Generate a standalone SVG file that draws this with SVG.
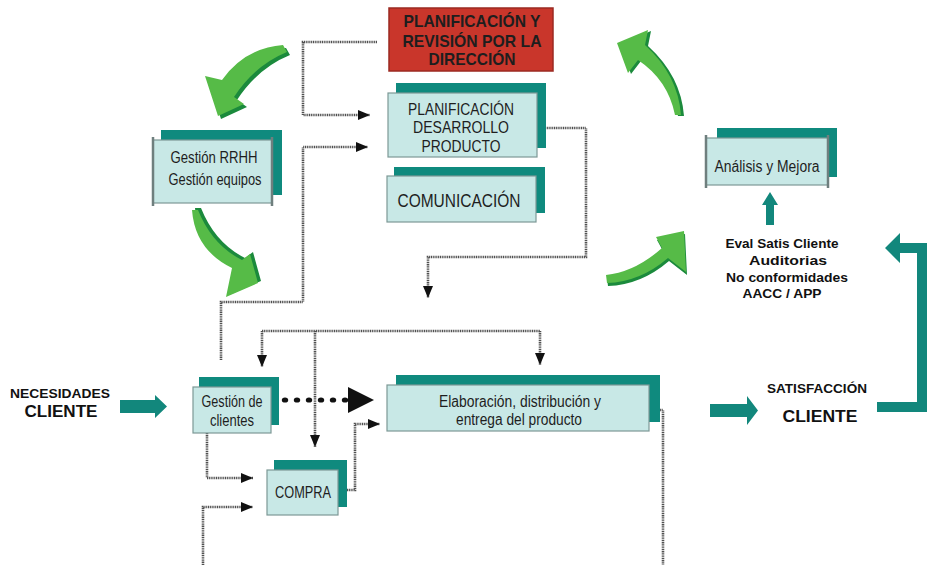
<svg xmlns="http://www.w3.org/2000/svg" width="938" height="565" viewBox="0 0 938 565">
<defs>
<style>
.back{fill:#0f8a7e}
.front{fill:#c8e8e6;stroke:#7d9896;stroke-width:1.2}
.side{stroke:#6f7f7e;stroke-width:2.5}
.t{font-family:"Liberation Sans Narrow","Liberation Sans",Arial,sans-serif;fill:#1e1e1e;text-anchor:middle}
.b{font-family:"Liberation Sans",Arial,sans-serif;font-weight:bold;fill:#111;text-anchor:middle}
.dot{fill:none;stroke:#505050;stroke-width:2.6;stroke-dasharray:1.1 0.7}
.teal{fill:#12877c}
.gl{fill:#56bb47}
.gd{fill:#1b8a3c}
</style>
<marker id="ah" viewBox="0 0 12 10" refX="12" refY="5" markerWidth="12" markerHeight="10" markerUnits="userSpaceOnUse" orient="auto"><path d="M0,0 L12,5 L0,10 Z" fill="#111"/></marker>
</defs>
<rect width="938" height="565" fill="#fff"/>

<g id="connectors">
<path class="dot" d="M377,42 H303 V115 H370" marker-end="url(#ah)"/>
<path class="dot" d="M221,360 V302 H303 V147 H368" marker-end="url(#ah)"/>
<path class="dot" d="M545,128 H586 V257 H428 V298" marker-end="url(#ah)"/>
<path class="dot" d="M262,331 H540"/>
<path class="dot" d="M262,331 V367" marker-end="url(#ah)"/>
<path class="dot" d="M540,331 V365" marker-end="url(#ah)"/>
<path class="dot" d="M315,331 V447" marker-end="url(#ah)"/>
<path class="dot" d="M207,433 V478 H253" marker-end="url(#ah)"/>
<path class="dot" d="M203,565 V507 H253" marker-end="url(#ah)"/>
<path class="dot" d="M338,490 H355 V424 H380" marker-end="url(#ah)"/>
<path class="dot" d="M649,410 H663 V565"/>
<g fill="#111">
<ellipse cx="285" cy="400" rx="3.2" ry="2.6"/><ellipse cx="297" cy="400" rx="3.2" ry="2.6"/><ellipse cx="309" cy="400" rx="3.2" ry="2.6"/>
<ellipse cx="321" cy="400" rx="3.2" ry="2.6"/><ellipse cx="333" cy="400" rx="3.2" ry="2.6"/><ellipse cx="345" cy="400" rx="3.2" ry="2.6"/>
<path d="M348,387 L374,400 L348,413 Z"/>
</g>
<polygon class="teal" points="120,400 155,400 155,395 167,406.5 155,418 155,413 120,413"/>
<polygon class="teal" points="710,404 747,404 747,396 758,410.5 747,425 747,417 710,417"/>
<polygon class="teal" points="877,402 917,402 917,253 900,253 900,263 885,248 900,233 900,243 927,243 927,412 877,412"/>
<polygon class="teal" points="766,225 766,205 762,205 770,192 778,205 774,205 774,225"/>
<g id="green-arrows">
<path class="gd" transform="translate(3,3)" d="M283,45 Q245,48 222,80 L205,76 L218,116 L244,104 L234,97 Q255,65 287,52 Z"/>
<path class="gl" d="M283,45 Q245,48 222,80 L205,76 L218,116 L244,104 L234,97 Q255,65 287,52 Z"/>
<path class="gd" transform="translate(3,-2)" d="M192,210 Q195,250 232,268 L226,297 L258,283 L250,254 L242,260 Q212,245 198,210 Z"/>
<path class="gl" d="M192,210 Q195,250 232,268 L226,297 L258,283 L250,254 L242,260 Q212,245 198,210 Z"/>
<path class="gd" transform="translate(1,3)" d="M607,283 Q640,282 668,258 L686,272 L684,231 L656,237 L662,248 Q635,272 606,275 Z"/>
<path class="gl" d="M607,283 Q640,282 668,258 L686,272 L684,231 L656,237 L662,248 Q635,272 606,275 Z"/>
<path class="gd" transform="translate(3,1)" d="M675,115 Q668,80 638,60 L628,73 L617,43 L648,30 L645,45 Q678,75 681,115 Z"/>
<path class="gl" d="M675,115 Q668,80 638,60 L628,73 L617,43 L648,30 L645,45 Q678,75 681,115 Z"/>
</g>
</g>

<g id="direccion">
<rect x="389" y="8" width="164" height="63" fill="#c9362b" stroke="#9b2a22" stroke-width="1.5"/>
<text class="t" font-weight="bold" font-size="17" fill="#2b1b17" x="472" y="27" textLength="137" lengthAdjust="spacingAndGlyphs">PLANIFICACIÓN Y</text>
<text class="t" font-weight="bold" font-size="17" fill="#2b1b17" x="472" y="47" textLength="139" lengthAdjust="spacingAndGlyphs">REVISIÓN POR LA</text>
<text class="t" font-weight="bold" font-size="17" fill="#2b1b17" x="472" y="65" textLength="87" lengthAdjust="spacingAndGlyphs">DIRECCIÓN</text>
</g>

<g id="planificacion">
<rect class="back" x="396" y="83" width="150" height="65"/>
<rect class="front" x="388" y="93" width="149" height="64"/>
<text class="t" font-size="17" x="461" y="115" textLength="106" lengthAdjust="spacingAndGlyphs">PLANIFICACIÓN</text>
<text class="t" font-size="17" x="461" y="133" textLength="96" lengthAdjust="spacingAndGlyphs">DESARROLLO</text>
<text class="t" font-size="17" x="461" y="152" textLength="79" lengthAdjust="spacingAndGlyphs">PRODUCTO</text>
</g>

<g id="comunicacion">
<rect class="back" x="394" y="167" width="151" height="46"/>
<rect class="front" x="387" y="176" width="149" height="46"/>
<text class="t" font-size="18" x="459" y="207" textLength="123" lengthAdjust="spacingAndGlyphs">COMUNICACIÓN</text>
</g>

<g id="rrhh">
<rect class="back" x="161" y="130" width="121" height="65"/>
<rect class="front" x="153" y="140" width="119" height="63"/>
<line class="side" x1="153" y1="137" x2="153" y2="206"/>
<line class="side" x1="272" y1="137" x2="272" y2="206"/>
<text class="t" font-size="16" x="214" y="163" textLength="87" lengthAdjust="spacingAndGlyphs">Gestión RRHH</text>
<text class="t" font-size="16" x="215" y="185" textLength="93" lengthAdjust="spacingAndGlyphs">Gestión equipos</text>
</g>

<g id="analisis">
<rect class="back" x="717" y="128" width="120" height="49"/>
<rect class="front" x="706" y="138" width="122" height="47"/>
<line class="side" x1="706" y1="135" x2="706" y2="188"/>
<line class="side" x1="828" y1="135" x2="828" y2="188"/>
<text class="t" font-size="16" x="767" y="172" textLength="105" lengthAdjust="spacingAndGlyphs">Análisis y Mejora</text>
</g>

<g id="eval">
<text class="b" font-size="13" x="782" y="248" textLength="113" lengthAdjust="spacingAndGlyphs">Eval Satis Cliente</text>
<text class="b" font-size="13" x="788" y="265" textLength="78" lengthAdjust="spacingAndGlyphs">Auditorias</text>
<text class="b" font-size="13" x="787" y="282" textLength="122" lengthAdjust="spacingAndGlyphs">No conformidades</text>
<text class="b" font-size="13" x="782" y="298" textLength="79" lengthAdjust="spacingAndGlyphs">AACC / APP</text>
</g>

<g id="necesidades">
<text class="b" font-size="13.5" x="60" y="398" textLength="100" lengthAdjust="spacingAndGlyphs">NECESIDADES</text>
<text class="b" font-size="17" x="61" y="417" textLength="73" lengthAdjust="spacingAndGlyphs">CLIENTE</text>
</g>

<g id="satisfaccion">
<text class="b" font-size="13.5" x="817" y="393" textLength="100" lengthAdjust="spacingAndGlyphs">SATISFACCIÓN</text>
<text class="b" font-size="17" x="820" y="422" textLength="75" lengthAdjust="spacingAndGlyphs">CLIENTE</text>
</g>

<g id="gestion-clientes">
<rect class="back" x="199" y="377" width="80" height="48"/>
<rect class="front" x="193" y="387" width="78" height="46"/>
<text class="t" font-size="16" x="232" y="407" textLength="61" lengthAdjust="spacingAndGlyphs">Gestión de</text>
<text class="t" font-size="16" x="232" y="426" textLength="44" lengthAdjust="spacingAndGlyphs">clientes</text>
</g>

<g id="compra">
<rect class="back" x="274" y="460" width="73" height="47"/>
<rect class="front" x="267" y="470" width="71" height="45"/>
<text class="t" font-size="16" x="303" y="498" textLength="56" lengthAdjust="spacingAndGlyphs">COMPRA</text>
</g>

<g id="elaboracion">
<rect class="back" x="396" y="375" width="264" height="47"/>
<rect class="front" x="387" y="385" width="262" height="46"/>
<text class="t" font-size="16" x="520" y="407" textLength="162" lengthAdjust="spacingAndGlyphs">Elaboración, distribución y</text>
<text class="t" font-size="16" x="519" y="425" textLength="126" lengthAdjust="spacingAndGlyphs">entrega del producto</text>
</g>
</svg>
